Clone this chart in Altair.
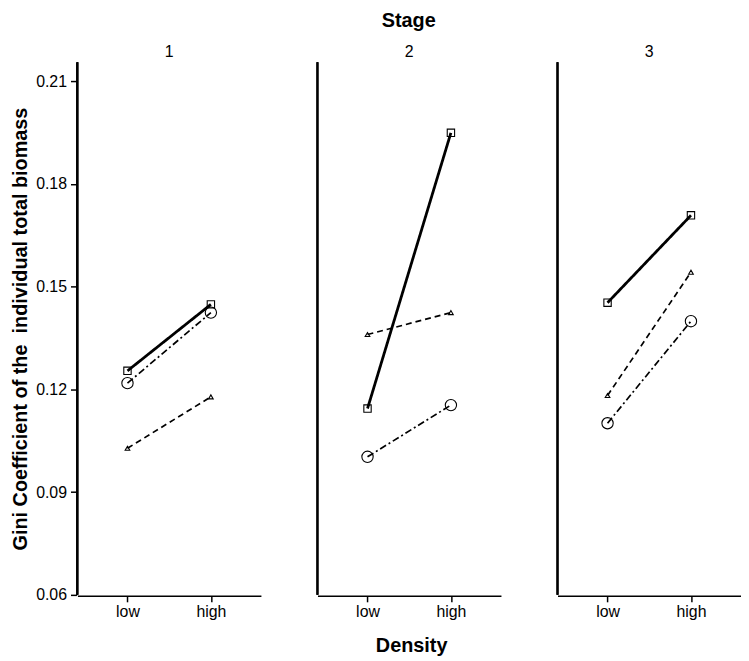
import altair as alt
import pandas as pd

stages = ["1", "2", "3"]
densities = ["low", "high"]
series = ["A", "B", "C"]  # A: square/solid, B: circle/dash-dot, C: triangle/dashed

# values per stage: [low, high]
series_a = [[0.1254, 0.1448], [0.1144, 0.1949], [0.1453, 0.1708]]
series_b = [[0.1218, 0.1424], [0.1003, 0.1154], [0.1101, 0.1399]]
series_c = [[0.1028, 0.1178], [0.1360, 0.1424], [0.1182, 0.1542]]

y_ticks = [0.06, 0.09, 0.12, 0.15, 0.18, 0.21]

rows = []
for name, vals in zip(series, [series_a, series_b, series_c]):
    for st, pair in zip(stages, vals):
        for d, v in zip(densities, pair):
            rows.append({"Stage": st, "Density": d, "Series": name, "Gini": v})
df = pd.DataFrame(rows)

FONT = "Liberation Sans"
H = 537
W = 185

x_enc = alt.X(
    "Density:N",
    sort=densities,
    scale=alt.Scale(type="point", padding=0.6),
    axis=alt.Axis(title=None, labelAngle=0, labelPadding=2),
)
y_enc = alt.Y(
    "Gini:Q",
    scale=alt.Scale(domain=[0.06, 0.2155], nice=False, zero=False),
    axis=alt.Axis(
        values=y_ticks,
        format=".2f",
        title="Gini Coefficient of the \u00a0individual total biomass",
        grid=False,
        titlePadding=5,
        labelPadding=4,
    ),
)

rule = alt.Chart().mark_rule(color="black", strokeWidth=1.5).encode(
    x=alt.value(0), y=alt.value(0), y2=alt.value(H)
)

# style per series: (line width, dash, marker shape, marker size)
styles = {
    "A": (2.8, [1, 0], "square", 55),
    "B": (1.7, [7, 3, 2, 3], "circle", 130),
    "C": (1.7, [6, 4], "triangle-up", 22),
}

layers = [rule]
for name in series:
    lw, dash, shape, size = styles[name]
    base = alt.Chart().transform_filter(alt.datum.Series == name)
    layers.append(
        base.mark_line(color="black", strokeWidth=lw, strokeDash=dash).encode(x=x_enc, y=y_enc)
    )
for name in series:
    lw, dash, shape, size = styles[name]
    base = alt.Chart().transform_filter(alt.datum.Series == name)
    layers.append(
        base.mark_point(
            filled=False, color="black", strokeWidth=1.1, opacity=1, shape=shape, size=size
        ).encode(x=x_enc, y=y_enc)
    )

chart = (
    alt.layer(*layers, data=df)
    .properties(width=W, height=H)
    .facet(
        column=alt.Column(
            "Stage:N",
            sort=stages,
            header=alt.Header(
                title="Stage",
                titleFontSize=20,
                titleFontWeight="bold",
                titleColor="black",
                titleFont=FONT,
                titlePadding=4,
                labelFontSize=16,
                labelColor="black",
                labelFont=FONT,
                labelPadding=1,
            ),
        ),
        spacing=56,
    )
    .properties(
        title=alt.TitleParams(
            "Density",
            orient="bottom",
            anchor="middle",
            fontSize=20,
            fontWeight="bold",
            color="black",
            font=FONT,
            offset=17,
            dx=36,
        ),
        padding={"left": 2, "top": 0, "right": 0, "bottom": 0},
    )
    .configure_view(stroke=None)
    .configure_axis(
        domainColor="black",
        domainWidth=1.5,
        tickColor="black",
        tickWidth=1.5,
        tickSize=6,
        labelColor="black",
        labelFontSize=16,
        labelFont=FONT,
        titleColor="black",
        titleFontSize=20,
        titleFontWeight="bold",
        titleFont=FONT,
    )
)

chart.save("out.html", embed_options={"renderer": "svg", "actions": False})
